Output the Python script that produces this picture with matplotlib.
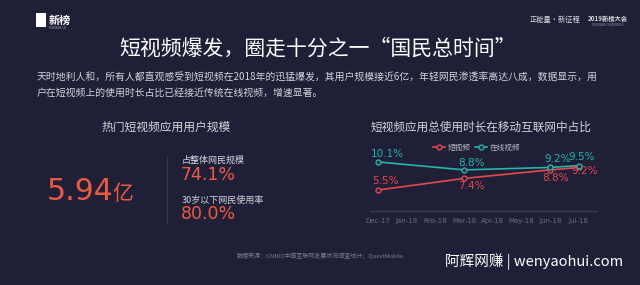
import matplotlib.pyplot as plt
from matplotlib.patches import Rectangle

plt.rcParams['font.family'] = ['Noto Sans CJK SC', 'DejaVu Sans']

# data
months = ['Dec-17', 'Jan-18', 'Feb-18', 'Mar-18', 'Apr-18', 'May-18', 'Jun-18', 'Jul-18']
idx_points = [0, 3, 6, 7]
short_video = [5.5, 7.4, 8.8, 9.2]
online_video = [10.1, 8.8, 9.2, 9.5]
series_names = ['短视频', '在线视频']

user_scale = '5.94'
share_total = '74.1%'
share_under30 = '80.0%'

bg = '#1f2037'
red = '#e5484f'
cyan = '#25b6a8'
orange = '#ec5a43'
light = '#d2d3dc'
dim = '#6c6d84'

fig = plt.figure(figsize=(6.4, 2.85), dpi=100)
fig.set_facecolor(bg)

def px(x, y):
    # pixel coords (from top-left) -> figure fraction
    return x / 640, 1 - y / 285

# header
fig.patches.append(Rectangle(px(36, 27), 10 / 640, 14 / 285, transform=fig.transFigure,
                             facecolor='white', edgecolor='none'))
fig.text(*px(49, 20), '新榜', color='white', fontsize=8, fontweight='bold', va='center')
fig.text(*px(49, 28), 'NEWRANK.CN', color='#9a9aae', fontsize=2, va='center')
fig.text(*px(555, 20), '正能量·新征程', color='#d8d8e0', fontsize=5.2, ha='center', va='center')
fig.text(*px(608, 18), '2019新榜大会', color='#d8d8e0', fontsize=4.5, ha='center', va='center', fontweight='bold')
fig.text(*px(608, 25), 'NEWRANK CONFERENCE', color='#8a8aa0', fontsize=2, ha='center', va='center')

fig.text(*px(318, 49), '短视频爆发，圈走十分之一“国民总时间”', color='white',
         fontsize=15, ha='center', va='center')
fig.text(*px(37, 77), '天时地利人和，所有人都直观感受到短视频在2018年的迅猛爆发，其用户规模接近6亿，年轻网民渗透率高达八成，数据显示，用',
         color=light, fontsize=7.1, va='center')
fig.text(*px(37, 93), '户在短视频上的使用时长占比已经接近传统在线视频，增速显著。',
         color=light, fontsize=7.1, va='center')

# left panel
fig.text(*px(166, 127), '热门短视频应用用户规模', color=light, fontsize=8.5, ha='center', va='center')
fig.text(*px(47, 192), user_scale, color=orange, fontsize=21.5, va='center', family='DejaVu Sans')
fig.text(*px(112, 194), '亿', color=orange, fontsize=15, va='center')
fig.add_artist(plt.Line2D([167 / 640, 167 / 640], [1 - 223 / 285, 1 - 157 / 285],
                          color='#34354f', lw=0.8))
fig.text(*px(182, 160), '占整体网民规模', color=light, fontsize=6.5, va='center')
fig.text(*px(181, 175), share_total, color=orange, fontsize=12.5, va='center', family='DejaVu Sans')
fig.text(*px(182, 200), '30岁以下网民使用率', color=light, fontsize=6.5, va='center')
fig.text(*px(181, 214), share_under30, color=orange, fontsize=12.5, va='center', family='DejaVu Sans')

# right panel title
fig.text(*px(481, 127), '短视频应用总使用时长在移动互联网中占比', color=light, fontsize=8.4,
         ha='center', va='center')

ax = fig.add_axes([370 / 640, 1 - 211 / 285, 227 / 640, 61 / 285])
ax.set_facecolor('none')
ax.plot(idx_points, short_video, color=red, lw=1.2, marker='o', ms=3.5,
        mfc=bg, mec=red, mew=1, label=series_names[0])
ax.plot(idx_points, online_video, color=cyan, lw=1.2, marker='o', ms=3.5,
        mfc=bg, mec=cyan, mew=1, label=series_names[1])

red_off = [(7, 9), (7, -8), (5, -8), (6, -4)]
cyan_off = [(9, 8), (7, 7), (7, 8), (3, 9)]
for x, v, o in zip(idx_points, short_video, red_off):
    ax.annotate(f'{v}%', (x, v), xytext=(o[0] * 0.72, o[1] * 0.72), textcoords='offset points',
                color=red, fontsize=7.5, ha='center', va='center', family='DejaVu Sans')
for x, v, o in zip(idx_points, online_video, cyan_off):
    ax.annotate(f'{v}%', (x, v), xytext=(o[0] * 0.72, o[1] * 0.72), textcoords='offset points',
                color=cyan, fontsize=7.5, ha='center', va='center', family='DejaVu Sans')

ax.set_xlim(-0.28, 7.63)
ax.set_ylim(2.06, 12.06)
ax.set_xticks(range(len(months)))
ax.set_xticklabels(months, color=dim, fontsize=5, family='DejaVu Sans')
ax.tick_params(axis='x', length=0, pad=5)
ax.set_yticks([])
for s in ['left', 'right', 'top']:
    ax.spines[s].set_visible(False)
ax.spines['bottom'].set_color('#3a3b55')
ax.spines['bottom'].set_linewidth(1)
ax.legend(loc='center', bbox_to_anchor=(0.47, 1.03), ncol=2, frameon=False, fontsize=5.5,
          labelcolor='#b8b9c6', handlelength=1.6, handletextpad=0.3, columnspacing=0.6,
          borderaxespad=0)

# footer
fig.text(*px(320, 256), '数据来源：CNNIC中国互联网发展状况调查统计；QuestMobile', color='#7a7b90',
         fontsize=4.3, ha='center', va='center')
fig.text(*px(445, 262), '阿辉网赚 | wenyaohui.com', color='white', fontsize=10.5, va='center')

plt.savefig('out.png', dpi=100, facecolor=bg)
